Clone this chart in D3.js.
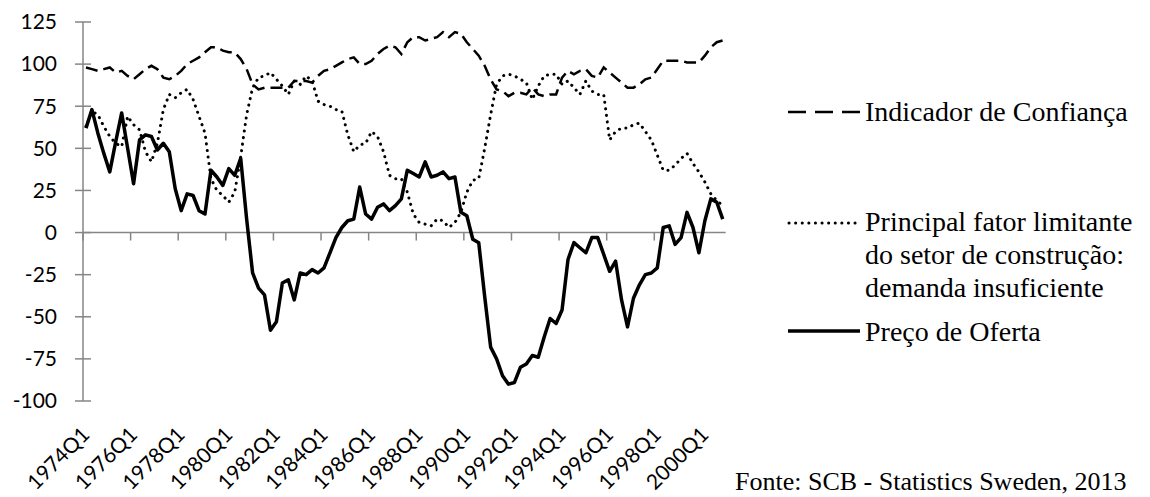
<!DOCTYPE html>
<html><head><meta charset="utf-8">
<script src="https://cdn.jsdelivr.net/npm/d3@7"></script>
<style>body{margin:0;background:#fff}svg{display:block}</style>
</head><body>
<svg id="c" width="1150" height="497"></svg>
<script>
// categories: 1974Q1 .. 2000Q4
const years = d3.range(1974, 2001);
const quarters = ["Q1","Q2","Q3","Q4"];
const categories = years.flatMap(y => quarters.map(q => y + q));
const tickLabels = ["1974Q1","1976Q1","1978Q1","1980Q1","1982Q1","1984Q1","1986Q1","1988Q1","1990Q1","1992Q1","1994Q1","1996Q1","1998Q1","2000Q1"];
const yTicks = [-100,-75,-50,-25,0,25,50,75,100,125];

const confianca = [98,97,96,97,98,95,96,93,91,94,97,99,97,92,91,93,96,100,102,104,107,110,110,108,107,107,103,97,
88,85,86,86,86,86,86,90,90,90,89,93,96,97,99,101,103,104,100,100,102,106,109,111,110,106,113,116,116,114,115,116,
119,116,119,118,113,109,105,99,91,85,84,81,83,83,82,86,82,81,82,82,92,96,94,96,97,93,92,98,95,92,89,86,86,88,91,92,
97,102,102,102,102,101,101,101,105,110,113,114];

const demanda = [63,72,70,63,57,53,51,69,64,61,48,42,53,73,82,80,83,85,79,69,59,32,25,22,18,24,45,70,
86,92,93,95,91,87,82,90,88,93,90,78,76,75,73,72,58,48,52,53,60,57,48,34,32,32,24,11,6,5,4,8,
7,3,6,12,24,31,32,50,70,88,93,94,93,91,89,79,87,93,94,94,88,90,86,82,90,84,82,82,55,60,62,62,64,65,60,55,
46,37,37,40,44,47,41,36,30,23,19,16];

const preco = [62,73,59,47,36,54,71,50,29,55,58,57,49,53,48,26,13,23,22,13,11,37,33,28,38,34,44,8,
-24,-33,-37,-58,-53,-30,-28,-40,-24,-25,-22,-24,-21,-12,-3,3,7,8,27,11,8,15,17,13,16,20,37,35,33,42,33,34,
36,32,33,12,10,-4,-6,-38,-68,-75,-85,-90,-89,-80,-78,-73,-74,-62,-51,-54,-46,-16,-6,-9,-12,-3,-3,-13,-23,-17,-40,-56,
-39,-31,-25,-24,-21,3,4,-7,-3,12,3,-12,7,20,18,8];

const seriesNames = ["Indicador de Confiança", "Principal fator limitante", "Preço de Oferta"];

const svg = d3.select("#c");
const x = d3.scaleBand().domain(categories).range([83, 725.7]).padding(0);
const y = d3.scaleLinear().domain([-100, 125]).range([401, 22]);
const cx = c => x(c) + x.bandwidth() / 2;
const axisColor = "#868686";

// y axis
const yAxis = svg.append("g");
yAxis.append("line").attr("x1", 83).attr("x2", 83).attr("y1", y(125)).attr("y2", y(-100))
  .attr("stroke", axisColor).attr("stroke-width", 1.5);
yAxis.selectAll("line.t").data(yTicks).join("line").attr("class","t")
  .attr("x1", 75).attr("x2", 91).attr("y1", d => y(d)).attr("y2", d => y(d))
  .attr("stroke", axisColor).attr("stroke-width", 1.5);
yAxis.selectAll("text").data(yTicks).join("text")
  .attr("x", 57).attr("y", d => y(d)).attr("dy", "0.35em")
  .attr("text-anchor", "end").attr("font-family", "Lato, 'Open Sans', sans-serif")
  .attr("font-size", 21).attr("fill", "#000").text(d => d);

// x axis
const xAxis = svg.append("g");
xAxis.append("line").attr("x1", 83).attr("x2", 725.7).attr("y1", y(0)).attr("y2", y(0))
  .attr("stroke", axisColor).attr("stroke-width", 1.5);
const tickCats = categories.filter((c, i) => i % 8 === 0);
xAxis.selectAll("line.t").data(tickCats).join("line").attr("class","t")
  .attr("x1", d => x(d)).attr("x2", d => x(d)).attr("y1", y(0)).attr("y2", y(0) + 8)
  .attr("stroke", axisColor).attr("stroke-width", 1.5);
xAxis.selectAll("text").data(tickLabels).join("text")
  .attr("transform", d => `translate(${cx(d) + 5},436) rotate(-45)`)
  .attr("text-anchor", "end").attr("font-family", "Lato, 'Open Sans', sans-serif")
  .attr("font-size", 21).attr("fill", "#000").text(d => d);

// lines
const line = vals => d3.line().x((d, i) => cx(categories[i])).y(d => y(d))(vals);
svg.append("path").attr("d", line(demanda)).attr("fill", "none").attr("stroke", "#000")
  .attr("stroke-width", 3).attr("stroke-dasharray", "0.1 6.5").attr("stroke-linecap", "round");
svg.append("path").attr("d", line(confianca)).attr("fill", "none").attr("stroke", "#000")
  .attr("stroke-width", 2.5).attr("stroke-dasharray", "12 6");
svg.append("path").attr("d", line(preco)).attr("fill", "none").attr("stroke", "#000")
  .attr("stroke-width", 3.5).attr("stroke-linejoin", "round");

// legend
const lg = svg.append("g").attr("font-family", "'Liberation Serif', 'Times New Roman', serif")
  .attr("font-size", 28).attr("fill", "#000");
lg.append("line").attr("x1", 788).attr("x2", 860).attr("y1", 112).attr("y2", 112)
  .attr("stroke", "#000").attr("stroke-width", 2.5).attr("stroke-dasharray", "18 9");
lg.append("text").attr("x", 865).attr("y", 121).text(seriesNames[0]);
lg.append("line").attr("x1", 789).attr("x2", 858).attr("y1", 223).attr("y2", 223)
  .attr("stroke", "#000").attr("stroke-width", 3).attr("stroke-dasharray", "0.1 6.5").attr("stroke-linecap", "round");
lg.append("text").attr("x", 865).attr("y", 231).text(seriesNames[1]);
lg.append("text").attr("x", 865).attr("y", 264).text("do setor de construção:");
lg.append("text").attr("x", 865).attr("y", 297).text("demanda insuficiente");
lg.append("line").attr("x1", 788).attr("x2", 860).attr("y1", 331).attr("y2", 331)
  .attr("stroke", "#000").attr("stroke-width", 3.5);
lg.append("text").attr("x", 865).attr("y", 341).text(seriesNames[2]);
lg.append("text").attr("x", 735).attr("y", 490).attr("font-size", 26).text("Fonte: SCB - Statistics Sweden, 2013");
</script>
</body></html>
